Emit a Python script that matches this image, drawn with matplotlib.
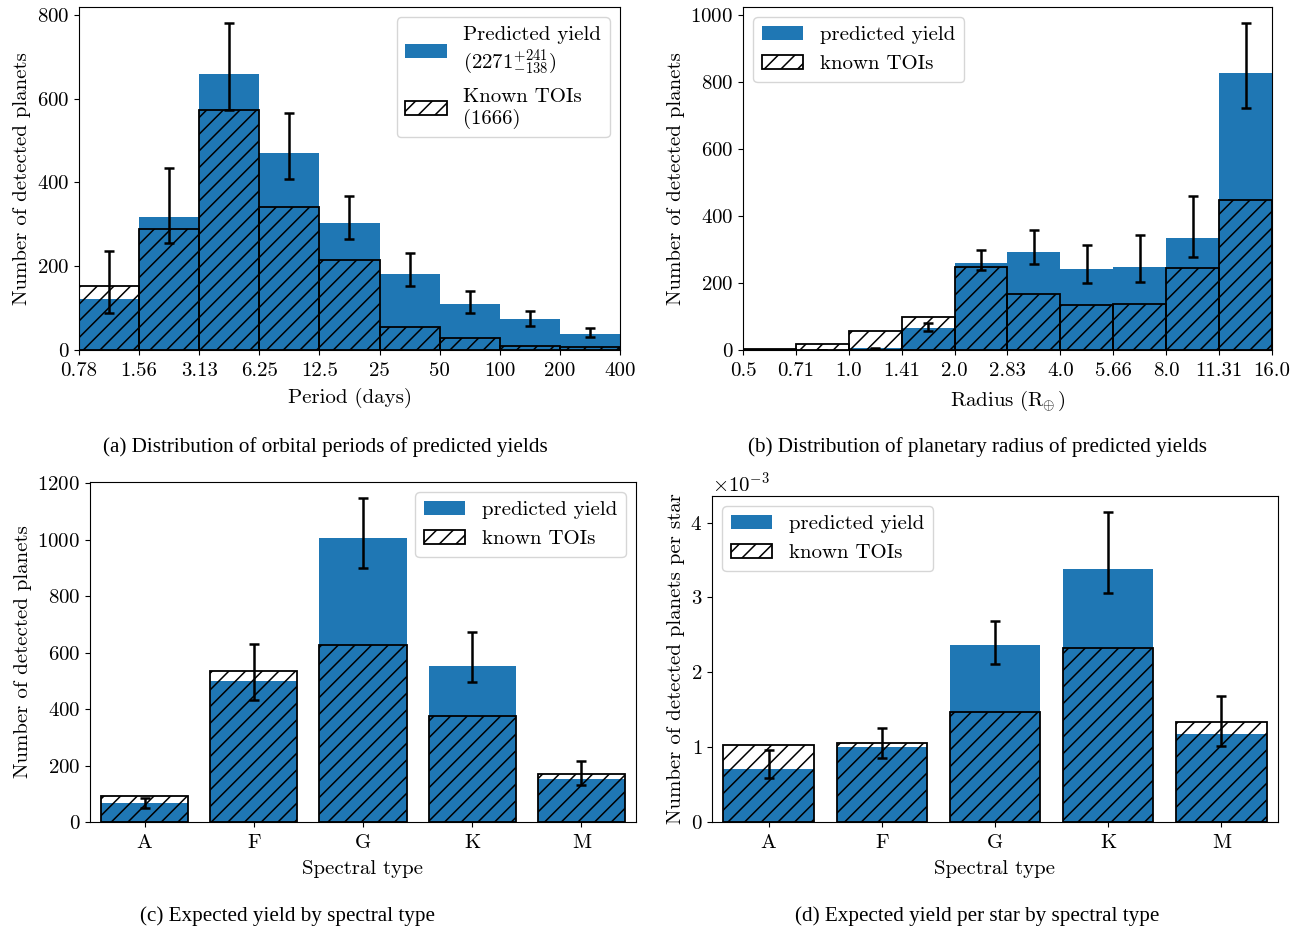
import numpy as np
import matplotlib
matplotlib.use('Agg')
import matplotlib.pyplot as plt
from matplotlib.ticker import FixedLocator, NullLocator

plt.rcParams['font.family'] = 'serif'
plt.rcParams['font.serif'] = ['cmr10']
plt.rcParams['mathtext.fontset'] = 'cm'
plt.rcParams['axes.formatter.use_mathtext'] = True
plt.rcParams['font.size'] = 15
plt.rcParams['hatch.linewidth'] = 1.1
plt.rcParams['xtick.major.pad'] = 5
plt.rcParams['axes.labelpad'] = 6

# (a) orbital period bins
period_edges = [0.78125, 1.5625, 3.125, 6.25, 12.5, 25, 50, 100, 200, 400]
period_labels = ['0.78', '1.56', '3.13', '6.25', '12.5', '25', '50', '100', '200', '400']
period_pred = [122, 318, 659, 470, 303, 182, 110, 74, 38]
period_lo = [88, 256, 573, 408, 264, 153, 89, 58, 30]
period_hi = [236, 435, 780, 566, 367, 232, 141, 94, 53]
period_toi = [153, 290, 572, 342, 214, 56, 29, 9, 6]

# (b) radius bins
radius_edges = [0.5, 0.7071, 1.0, 1.4142, 2.0, 2.8284, 4.0, 5.6569, 8.0, 11.3137, 16.0]
radius_labels = ['0.5', '0.71', '1.0', '1.41', '2.0', '2.83', '4.0', '5.66', '8.0', '11.31', '16.0']
radius_pred = [1, 0, 5, 65, 260, 293, 242, 248, 334, 827]
radius_lo = [1, 0, 3, 57, 239, 256, 201, 203, 278, 722]
radius_hi = [1, 0, 7, 80, 298, 359, 314, 344, 459, 976]
radius_toi = [3, 18, 56, 100, 248, 168, 133, 137, 244, 448]

# (c) and (d) spectral type
spec_types = ['A', 'F', 'G', 'K', 'M']
spec_pred = [67, 499, 1005, 551, 151]
spec_lo = [51, 433, 901, 497, 131]
spec_hi = [85, 630, 1147, 674, 216]
spec_toi = [92, 534, 627, 377, 171]

star_pred = [0.713e-3, 0.998e-3, 2.361e-3, 3.385e-3, 1.180e-3]
star_lo = [0.592e-3, 0.860e-3, 2.111e-3, 3.056e-3, 1.020e-3]
star_hi = [0.958e-3, 1.252e-3, 2.686e-3, 4.147e-3, 1.688e-3]
star_toi = [1.033e-3, 1.060e-3, 1.465e-3, 2.330e-3, 1.341e-3]

blue = '#1f77b4'
err_kw = dict(fmt='none', ecolor='black', elinewidth=1.8, capsize=3.5, capthick=1.8)
toi_kw = dict(facecolor='none', edgecolor='black', hatch='//', linewidth=1.3)


def hist_panel(ax, edges, labels, pred, lo, hi, toi):
    edges = np.array(edges)
    widths = np.diff(edges)
    centers = np.sqrt(edges[:-1] * edges[1:])
    pred = np.array(pred)
    ax.set_xscale('log', base=2)
    ax.bar(edges[:-1], pred, width=widths, align='edge', color=blue, label='pred')
    ax.bar(edges[:-1], toi, width=widths, align='edge', label='toi', **toi_kw)
    ax.errorbar(centers, pred, yerr=[pred - np.array(lo), np.array(hi) - pred], **err_kw)
    ax.set_xlim(edges[0], edges[-1])
    ax.xaxis.set_major_locator(FixedLocator(edges))
    ax.xaxis.set_minor_locator(NullLocator())
    ax.set_xticklabels(labels)
    ax.set_ylabel('Number of detected planets', labelpad=4)


def type_panel(ax, pred, lo, hi, toi):
    x = np.arange(len(spec_types))
    pred = np.array(pred)
    ax.bar(x, pred, width=0.8, color=blue, label='predicted yield')
    ax.bar(x, toi, width=0.8, label='known TOIs', **toi_kw)
    ax.errorbar(x, pred, yerr=[pred - np.array(lo), np.array(hi) - pred], **err_kw)
    ax.set_xticks(x)
    ax.set_xticklabels(spec_types)
    ax.set_xlim(-0.5, 4.5)
    ax.set_xlabel('Spectral type')


fig = plt.figure(figsize=(13.03, 9.31), dpi=100)
W, H = 1303, 931


def axes_px(l, r, t, b):
    return fig.add_axes([l / W, 1 - b / H, (r - l) / W, (b - t) / H])


# (a)
ax1 = axes_px(79, 620, 7, 350)
hist_panel(ax1, period_edges, period_labels, period_pred, period_lo, period_hi, period_toi)
ax1.set_xlabel('Period (days)')
h, _ = ax1.get_legend_handles_labels()
ax1.legend(h[:2], ['Predicted yield\n($2271^{+241}_{-138}$)', 'Known TOIs\n(1666)'],
           loc='upper right')

# (b)
ax2 = axes_px(743, 1272, 7, 350)
hist_panel(ax2, radius_edges, radius_labels, radius_pred, radius_lo, radius_hi, radius_toi)
ax2.set_xlabel(r'Radius (R$_{\!\!\oplus}$)')
h, _ = ax2.get_legend_handles_labels()
ax2.legend(h[:2], ['predicted yield', 'known TOIs'], loc='upper left')

# (c)
ax3 = axes_px(90, 636, 482, 822)
type_panel(ax3, spec_pred, spec_lo, spec_hi, spec_toi)
ax3.set_ylabel('Number of detected planets', labelpad=4)
ax3.legend(loc='upper right')

# (d)
ax4 = axes_px(712, 1278, 496, 822)
type_panel(ax4, star_pred, star_lo, star_hi, star_toi)
ax4.ticklabel_format(axis='y', style='sci', scilimits=(-3, -3))
ax4.set_ylabel('Number of detected planets per star', labelpad=4)
ax4.legend(loc='upper left')

cap = dict(ha='center', va='center', fontsize=15.2, family='Liberation Serif')
fig.text(325 / W, 1 - 447 / H, '(a) Distribution of orbital periods of predicted yields', **cap)
fig.text(977 / W, 1 - 447 / H, '(b) Distribution of planetary radius of predicted yields', **cap)
fig.text(287 / W, 1 - 916 / H, '(c) Expected yield by spectral type', **cap)
fig.text(977 / W, 1 - 916 / H, '(d) Expected yield per star by spectral type', **cap)

fig.savefig('out.png', dpi=100)
